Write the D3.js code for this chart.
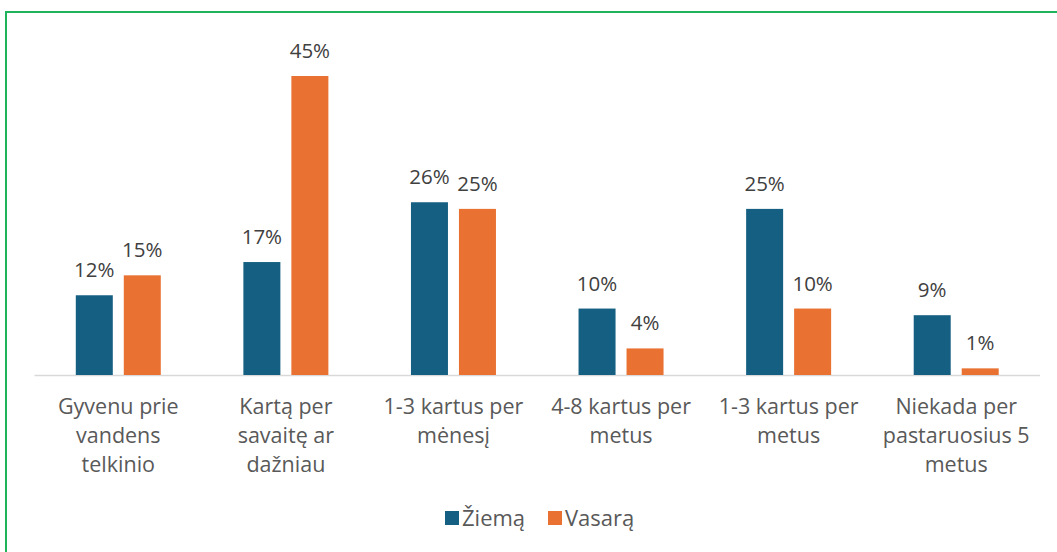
<!DOCTYPE html>
<html>
<head>
<meta charset="utf-8">
<script src="https://cdn.jsdelivr.net/npm/d3@7"></script>
<style>
  html, body { margin: 0; padding: 0; background: #fff; }
  svg { display: block; font-family: "Open Sans", "Noto Sans", sans-serif; }
</style>
</head>
<body>
<svg id="chart" width="1057" height="552"></svg>
<script>
// categories, split into label lines
const categories = [
  ['Gyvenu prie', 'vandens', 'telkinio'],
  ['Kartą per', 'savaitę ar', 'dažniau'],
  ['1-3 kartus per', 'mėnesį'],
  ['4-8 kartus per', 'metus'],
  ['1-3 kartus per', 'metus'],
  ['Niekada per', 'pastaruosius 5', 'metus']
]
const seriesNames = ['Žiemą', 'Vasarą']
const winter = [12, 17, 26, 10, 25, 9]
const summer = [15, 45, 25, 4, 10, 1]
const colors = ['#156082', '#e97132']

const svg = d3.select('#chart')

// frame
svg.append('rect')
    .attr('x', 6).attr('y', 12)
    .attr('width', 1060).attr('height', 560)
    .attr('fill', 'none')
    .attr('stroke', '#1fb35b')
    .attr('stroke-width', 2)

const baseY = 375

const x = d3.scaleBand()
    .domain(d3.range(categories.length))
    .range([34.5, 1040])

const inner = d3.scaleBand()
    .domain([0, 1])
    .range([x.bandwidth() / 2 - 42.5, x.bandwidth() / 2 + 42.5])
    .paddingInner(0.229)

const y = d3.scaleLinear()
    .domain([0, 45])
    .range([baseY, 76])

// baseline
svg.append('line')
    .attr('x1', x.range()[0]).attr('x2', x.range()[1])
    .attr('y1', baseY + 0.5).attr('y2', baseY + 0.5)
    .attr('stroke', '#d9d9d9')
    .attr('stroke-width', 1.5)

const rows = categories.map((c, i) => ({ i, vals: [winter[i], summer[i]] }))

const groups = svg.append('g').selectAll('g')
    .data(rows)
    .join('g')
    .attr('transform', d => `translate(${x(d.i)},0)`)

groups.selectAll('rect')
    .data(d => d.vals.map((v, s) => ({ v, s })))
    .join('rect')
    .attr('x', d => inner(d.s))
    .attr('y', d => y(d.v))
    .attr('width', inner.bandwidth())
    .attr('height', d => baseY - y(d.v))
    .attr('fill', d => colors[d.s])

groups.selectAll('text.val')
    .data(d => d.vals.map((v, s) => ({ v, s })))
    .join('text')
    .attr('class', 'val')
    .attr('x', d => inner(d.s) + inner.bandwidth() / 2)
    .attr('y', d => y(d.v) - 18)
    .attr('text-anchor', 'middle')
    .attr('font-size', 20.5)
    .attr('fill', '#404040')
    .text(d => d.v + '%')

// category labels
groups.append('text')
    .attr('text-anchor', 'middle')
    .attr('font-size', 21.5)
    .attr('fill', '#595959')
    .selectAll('tspan')
    .data(d => categories[d.i])
    .join('tspan')
    .attr('x', x.bandwidth() / 2)
    .attr('y', (d, k) => 414 + k * 29)
    .text(d => d)

// legend
const legend = svg.append('g')
const legendPos = [445, 548]
seriesNames.forEach((name, s) => {
    legend.append('rect')
        .attr('x', legendPos[s]).attr('y', 511)
        .attr('width', 14).attr('height', 14)
        .attr('fill', colors[s])
    legend.append('text')
        .attr('x', legendPos[s] + 17).attr('y', 526)
        .attr('font-size', 22)
        .attr('fill', '#595959')
        .text(name)
})
</script>
</body>
</html>
